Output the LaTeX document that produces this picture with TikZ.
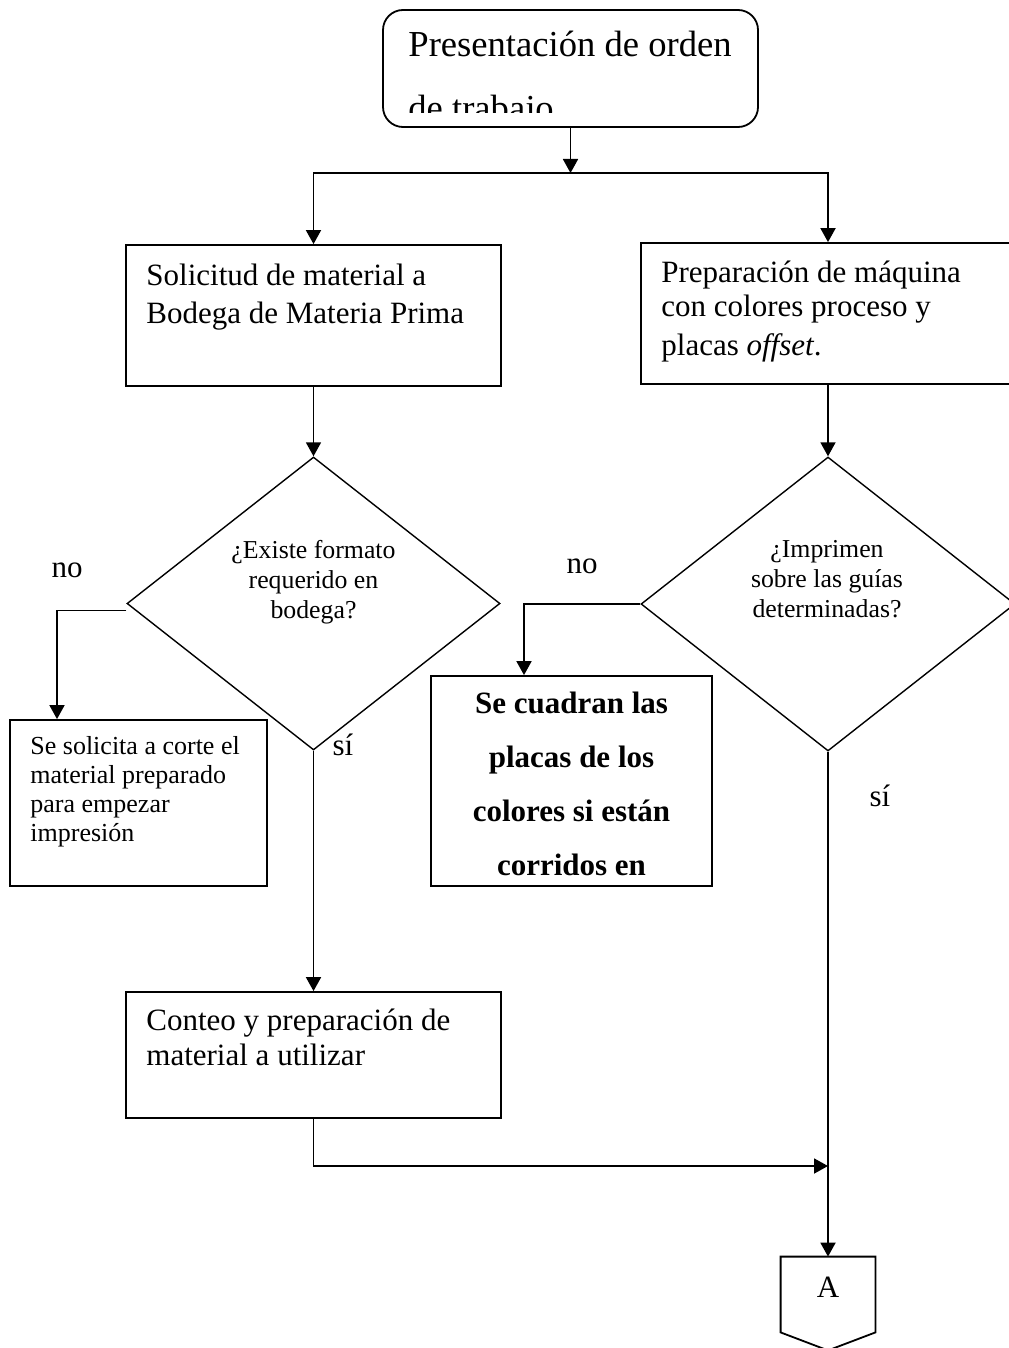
\documentclass[tikz,border=0pt]{standalone}
\usepackage{fontspec}
\setmainfont{Liberation Serif}
\usetikzlibrary{shapes.geometric,arrows.meta}

\tikzset{
    proc/.style={draw, line width=0.9pt, inner sep=0pt},
    decision/.style={draw, diamond, line width=0.7pt, inner sep=0pt},
    flow/.style={-{Triangle[length=7pt,width=7.5pt]}, line width=0.9pt},
    boxtext/.style={anchor=base west, inner sep=0pt, align=left},
    asktext/.style={anchor=base, inner sep=0pt, align=center, font=\fontsize{12.9}{15}\selectfont},
    answer/.style={anchor=base, inner sep=0pt, font=\fontsize{15.5}{18}\selectfont}
}

\begin{document}
\begin{tikzpicture}[x=0.5pt, y=-0.5pt]
    \useasboundingbox (0,0) rectangle (1008,1348);

    % boxes (text nodes sit on the baseline of their last line)
    \node[proc, rounded corners=10pt, minimum width=187.5pt, minimum height=58.5pt] (orden) at (570.5,68.5) {};
    \begin{scope}
        \clip (384,12) rectangle (757,113);
        \node[boxtext, font=\fontsize{18.3}{32}\selectfont] (ordentxt) at (408,121) {Presentación de orden\\de trabajo};
    \end{scope}

    \node[proc, minimum width=187.5pt, minimum height=70.5pt] (solicitud) at (313.5,315.5) {};
    \node[boxtext, font=\fontsize{15.5}{19}\selectfont] (solicitudtxt) at (146,323) {Solicitud de material a\\Bodega de Materia Prima};

    \node[proc, minimum width=187pt, minimum height=70.5pt] (preparacion) at (828,313.5) {};
    \node[boxtext, font=\fontsize{15.5}{17}\selectfont] (preparaciontxt) at (661,355) {Preparación de máquina\\con colores proceso y\\[2.5pt]placas \textit{offset}.};

    \node[decision, minimum width=186.5pt, minimum height=146.5pt] (existe) at (313.5,603.5) {};
    \node[asktext] (existetxt) at (313.5,618) {¿Existe formato\\requerido en\\bodega?};

    \node[decision, minimum width=187pt, minimum height=147pt] (imprimen) at (828,604) {};
    \node[asktext] (imprimentxt) at (827,617) {¿Imprimen\\sobre las guías\\determinadas?};

    \node[proc, minimum width=128.5pt, minimum height=83pt] (corte) at (138.5,803) {};
    \node[boxtext, font=\fontsize{13}{14.5}\selectfont] (cortetxt) at (30,841) {Se solicita a corte el\\material preparado\\para empezar\\impresión};

    \node[proc, minimum width=140.5pt, minimum height=105pt] (cuadran) at (571.5,781) {};
    \node[anchor=base, inner sep=0pt, align=center, font=\fontsize{15.5}{27}\selectfont\bfseries] (cuadrantxt) at (571.5,875) {Se cuadran las\\placas de los\\colores si están\\corridos en};

    \node[proc, minimum width=187.5pt, minimum height=63pt] (conteo) at (313.5,1055) {};
    \node[boxtext, font=\fontsize{15.5}{17.5}\selectfont] (conteotxt) at (146,1065) {Conteo y preparación de\\material a utilizar};

    \node[inner sep=0pt, minimum width=47pt, minimum height=30pt, font=\fontsize{15.5}{18}\selectfont] (conA) at (828,1287) {A};
    \draw[line width=0.9pt] (conA.north west) -- (conA.north east) -- ([yshift=-7.5pt]conA.south east)
        -- ([yshift=-16.5pt]conA.south) -- ([yshift=-7.5pt]conA.south west) -- cycle;

    % connectors
    \coordinate (split) at (570.5,173);
    \coordinate (junction) at (828,1166);
    \draw[flow] (orden) -- (split);
    \draw[flow] (split) -| (solicitud);
    \draw[flow] (split) -| (preparacion);
    \draw[flow] (solicitud) -- (existe);
    \draw[flow] (preparacion) -- (imprimen);
    \draw[flow] ([yshift=-3.5pt]existe.west) -| ([xshift=-40.75pt]corte.north);
    \draw[flow] (imprimen.west) -| ([xshift=-23.75pt]cuadran.north);
    \draw[flow] (existe) -- (conteo);
    \draw[flow] (conteo) |- (junction);
    \draw[flow] (imprimen) -- (conA);

    % labels
    \node[answer] (noleft) at (67,577) {no};
    \node[answer] (sileft) at (343,755) {sí};
    \node[answer] (noright) at (582,573) {no};
    \node[answer] (siright) at (880,806) {sí};
\end{tikzpicture}
\end{document}
